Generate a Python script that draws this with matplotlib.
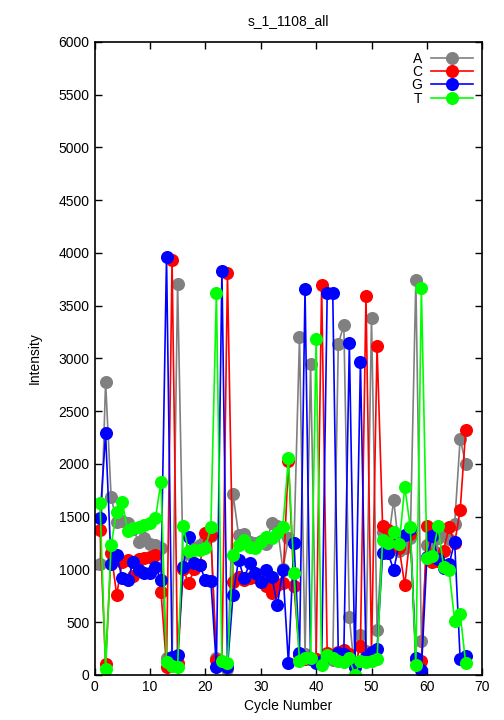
import matplotlib
matplotlib.use("Agg")
import matplotlib.pyplot as plt
import numpy as np

plt.rcParams['font.family'] = ['Liberation Sans', 'DejaVu Sans']

cycles = list(range(1, 68))

A = [1050, 2780, 1690, 1450, 1460, 1440, 1380, 1260, 1300, 1240,
     1230, 1200, 160, 100, 3710, 1000, 1150, 1200, 1230, 1280,
     1320, 160, 120, 60, 1720, 1330, 1340, 1260, 1250, 1270,
     1240, 1445, 1410, 1000, 1300, 1250, 3200, 200, 2950, 150,
     130, 160, 140, 3135, 3320, 550, 0, 380, 230, 3385,
     430, 1360, 1250, 1660, 1180, 1200, 1300, 3745, 320, 1230,
     1200, 1300, 1370, 1290, 1430, 2240, 2000]

C = [1370, 100, 1160, 760, 1070, 1090, 940, 1100, 1110, 1120,
     1140, 790, 80, 3930, 110, 1000, 870, 1000, 1040, 1350,
     1330, 145, 100, 3810, 885, 930, 900, 915, 930, 900,
     840, 775, 855, 870, 2030, 840, 190, 150, 150, 150,
     3695, 205, 170, 220, 240, 200, 80, 275, 3590, 205,
     3120, 1410, 1375, 1280, 1200, 850, 1340, 150, 135, 1410,
     1075, 1080, 1180, 1400, 1250, 1560, 2320]

G = [1485, 2290, 1050, 1140, 916, 900, 1074, 995, 964, 964,
     1027, 900, 3960, 174, 185, 1027, 1311, 1059, 1043, 900,
     895, 79, 3830, 79, 758, 1090, 916, 1059, 964, 885,
     995, 932, 664, 995, 111, 1254, 212, 3656, 150, 111,
     130, 3618, 3625, 205, 200, 3144, 79, 2970, 174, 221,
     243, 1153, 1153, 995, 1250, 1327, 1380, 158, 47, 1122,
     1318, 1100, 1011, 1050, 1264, 149, 180]

T = [1630, 60, 1232, 1548, 1643, 1365, 1390, 1400, 1420, 1444,
     1485, 1833, 120, 90, 79, 1410, 1176, 1185, 1185, 1200,
     1400, 3620, 133, 117, 1138, 1230, 1280, 1216, 1200, 1264,
     1311, 1296, 1343, 1406, 2054, 964, 136, 158, 160, 3182,
     95, 190, 158, 136, 126, 158, 0, 136, 126, 136,
     149, 1280, 1248, 1359, 1242, 1785, 1400, 95, 3666, 1106,
     1128, 1412, 1027, 995, 515, 578, 111]

labels = ['A', 'C', 'G', 'T']
colors = ['#808080', '#ff0000', '#0000ff', '#00ff00']
series = [A, C, G, T]

fig = plt.figure(figsize=(5.04, 7.2), dpi=100)
ax = fig.add_axes([0.1875, 0.0625, 0.957 - 0.1875, 0.9417 - 0.0625])

for lab, col, vals in zip(labels, colors, series):
    ax.plot(cycles, vals, color=col, lw=1.2, marker='o', ms=9.4,
            markeredgewidth=0, label=lab)

ax.set_xlim(0, 70)
ax.set_ylim(0, 6000)
ax.set_xticks(np.arange(0, 71, 10))
ax.set_yticks(np.arange(0, 6001, 500))
ax.tick_params(direction='in', top=True, right=True, labelsize=10, length=5, width=1)
for s in ax.spines.values():
    s.set_linewidth(1.2)

ax.set_title('s_1_1108_all', fontsize=10, pad=12)
ax.set_xlabel('Cycle Number', fontsize=10, labelpad=4)
ax.set_ylabel('Intensity', fontsize=10, labelpad=12)

ax.legend(loc='upper right', frameon=False, markerfirst=False, fontsize=10,
          handlelength=3.0, labelspacing=-0.05, borderaxespad=0.3,
          handletextpad=0.6)

fig.savefig('out.png', dpi=100)
